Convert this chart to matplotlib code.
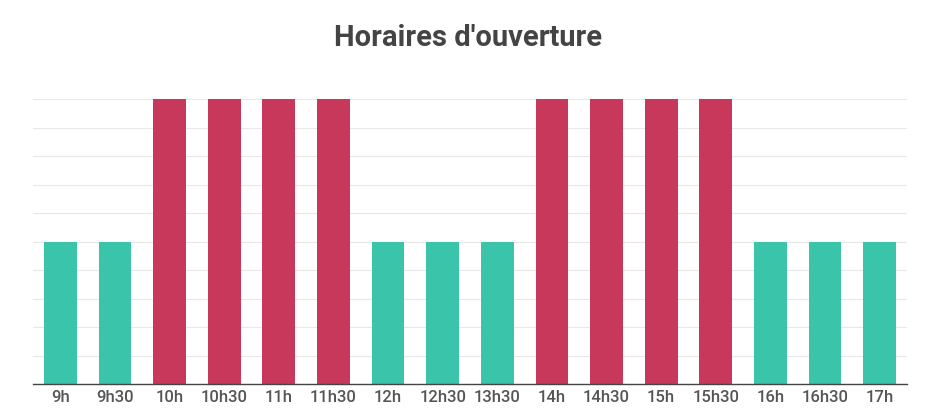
import matplotlib
matplotlib.use("Agg")
import matplotlib.pyplot as plt
import numpy as np

categories = ["9h", "9h30", "10h", "10h30", "11h", "11h30", "12h", "12h30", "13h30",
              "14h", "14h30", "15h", "15h30", "16h", "16h30", "17h"]
values = [5, 5, 10, 10, 10, 10, 5, 5, 5, 10, 10, 10, 10, 5, 5, 5]
green = "#3AC4A9"
red = "#C8385A"
colors = [red if v >= 10 else green for v in values]

plt.rcParams['font.family'] = ['Roboto', 'DejaVu Sans']

fig = plt.figure(figsize=(9.29, 4.2), dpi=100)
ax = fig.add_axes([33/929, 1-384/420, (907-33)/929, (384-99)/420])

x = np.arange(len(categories))
ax.bar(x, values, width=0.6, color=colors, zorder=2)
ax.set_xlim(-0.5, len(categories)-0.5)
ax.set_ylim(0, 10)
ax.set_yticks(np.arange(0, 11, 1))
ax.yaxis.grid(True, color="#E8E8E8", linewidth=0.8, zorder=0)
ax.tick_params(axis='y', length=0, labelleft=False)
ax.set_xticks(x)
ax.set_xticklabels(categories, fontsize=12, color="#555555", fontweight='medium')
ax.tick_params(axis='x', length=0, pad=4)
for s in ["top", "right", "left"]:
    ax.spines[s].set_visible(False)
ax.spines["bottom"].set_color("#444444")
ax.spines["bottom"].set_linewidth(1.0)
ax.spines["bottom"].set_zorder(3)

fig.text(468/929, 1-38/420, "Horaires d'ouverture", ha="center", va="center",
         fontsize=21, fontweight="bold", color="#444444")

fig.savefig("out.png", dpi=100)
